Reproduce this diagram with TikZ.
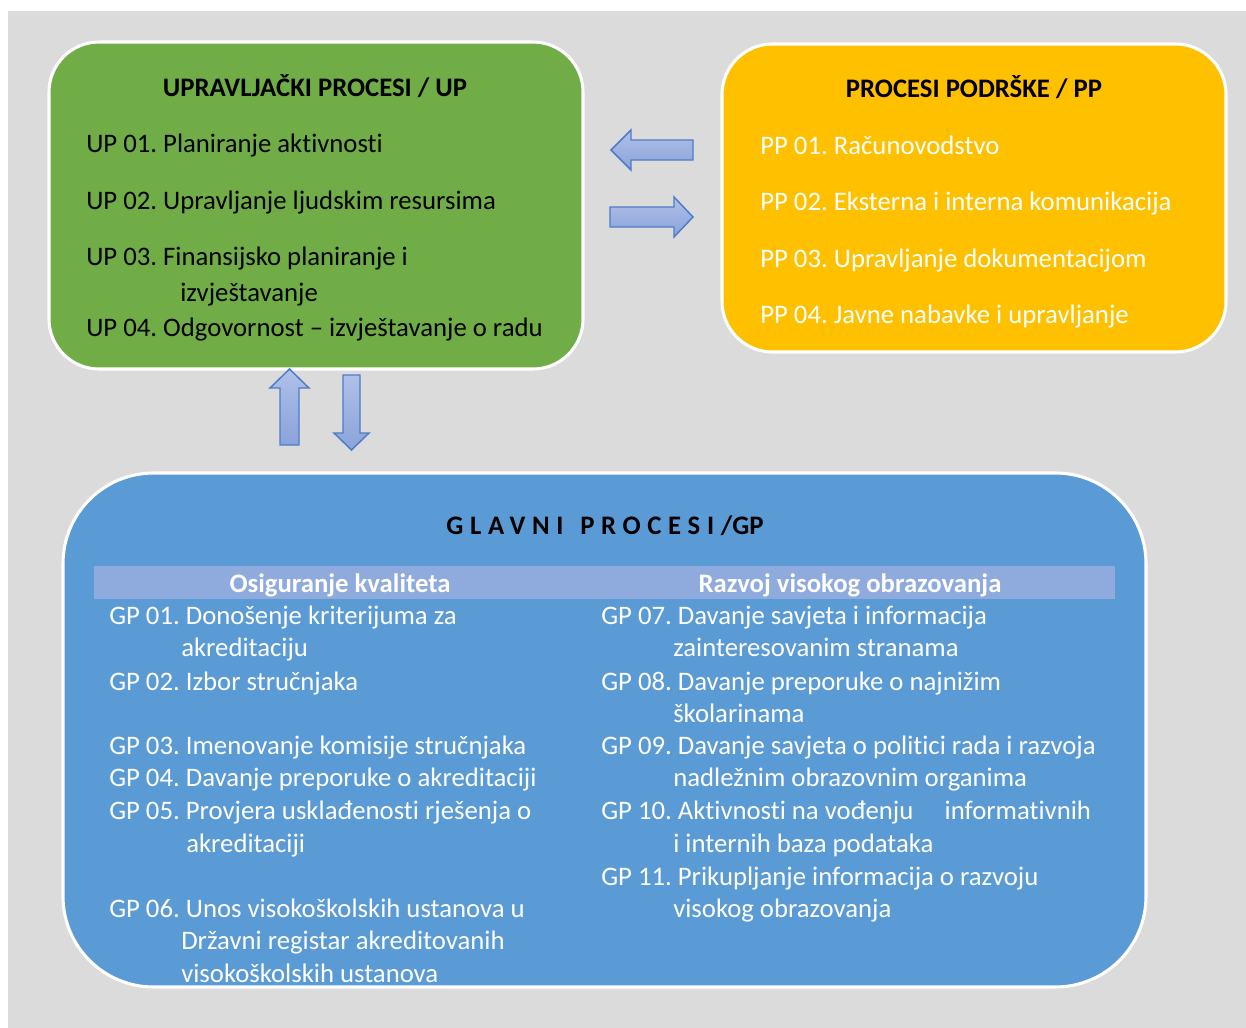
\documentclass[tikz,border=0pt]{standalone}
\usepackage{fontspec}
\setmainfont{Carlito}[Ligatures=NoCommon]
\newfontfamily\spacedfont[LetterSpace=25,Ligatures=NoCommon]{Carlito}
\frenchspacing
\definecolor{bggray}{HTML}{DBDBDB}
\definecolor{upgreen}{HTML}{70AD47}
\definecolor{ppyellow}{HTML}{FFC000}
\definecolor{gpblue}{HTML}{5B9BD5}
\definecolor{bandblue}{HTML}{8FAADC}
\definecolor{arrowtop}{HTML}{B0C0E8}
\definecolor{arrowbot}{HTML}{8AA3DA}
\definecolor{arrowline}{HTML}{4D7CC8}

\begin{document}
\begin{tikzpicture}[x=0.75pt,y=-0.75pt,
  box/.style={draw=white,line width=2.3pt},
  item/.style={anchor=west,inner sep=0pt,text height=1.5ex,text depth=.25ex,
    yshift=-4.3pt,font=\fontsize{20.05}{24}\selectfont},
  head/.style={item,anchor=center,font=\fontsize{20.05}{24}\selectfont\bfseries},
  barrow/.style={draw=arrowline,line width=1.1pt,top color=arrowtop,bottom color=arrowbot}]
  \useasboundingbox (0,0) rectangle (1246,1028);
  \fill[bggray] (8,11) rectangle (1246,1028);

  % upravljacki procesi
  \draw[box,fill=upgreen,rounded corners=37.5pt] (49,42) rectangle (583,369);
  \node[head] (uptitle) at (315,87) {UPRAVLJAČKI PROCESI / UP};
  \foreach \x/\y/\t in {86/143/UP 01. Planiranje aktivnosti,
      86/200/UP 02. Upravljanje ljudskim resursima,
      86/256/UP 03. Finansijsko planiranje i,
      180/292/izvještavanje,
      86/327/UP 04. Odgovornost – izvještavanje o radu}
    {\node[item] (up\y) at (\x,\y) {\t};}

  % procesi podrske
  \draw[box,fill=ppyellow,rounded corners=38pt] (722,44) rectangle (1226,352);
  \node[head] (pptitle) at (974,88) {PROCESI PODRŠKE / PP};
  \foreach \y/\t in {145/PP 01. Računovodstvo,
      201/PP 02. Eksterna i interna komunikacija,
      258/PP 03. Upravljanje dokumentacijom,
      314/PP 04. Javne nabavke i upravljanje}
    {\node[item,text=white] (pp\y) at (760,\y) {\t};}

  % block arrows between the boxes
  \draw[barrow] (611,150) -- (631,130) -- (631,140) -- (693,140) -- (693,160)
    -- (631,160) -- (631,170) -- cycle;
  \draw[barrow] (693,217) -- (674,197) -- (674,207) -- (610,207) -- (610,227)
    -- (674,227) -- (674,237) -- cycle;
  \draw[barrow] (289.5,369) -- (309,388) -- (299,388) -- (299,445) -- (280,445)
    -- (280,388) -- (270,388) -- cycle;
  \draw[barrow] (351.5,450) -- (369,433) -- (360,433) -- (360,375) -- (343,375)
    -- (343,433) -- (334,433) -- cycle;

  % glavni procesi
  \draw[box,fill=gpblue,rounded corners=68pt] (63,473) rectangle (1146,987);
  \node[head] (gptitle) at (605,525) {{\spacedfont\bfseries GLAVNI\hspace{3pt} PROCESI/}GP};
  \fill[bandblue] (94,566) rectangle (1115,599);
  \node[head,text=white] (band1) at (340,583) {Osiguranje kvaliteta};
  \node[head,text=white] (band2) at (850,583) {Razvoj visokog obrazovanja};
  \foreach \x/\y/\t in {109/615/GP 01. Donošenje kriterijuma za,
      181/647/akreditaciju,
      109/681/GP 02. Izbor stručnjaka,
      109/745/GP 03. Imenovanje komisije stručnjaka,
      109/777/GP 04. Davanje preporuke o akreditaciji,
      109/810/GP 05. Provjera usklađenosti rješenja o,
      186/843/akreditaciji,
      109/908/GP 06. Unos visokoškolskih ustanova u,
      181/940/Državni registar akreditovanih,
      181/973/visokoškolskih ustanova}
    {\node[item,text=white] (gl\y) at (\x,\y) {\t};}
  \foreach \x/\y/\t in {601/615/GP 07. Davanje savjeta i informacija,
      673/647/zainteresovanim stranama,
      601/681/GP 08. Davanje preporuke o najnižim,
      673/713/školarinama,
      601/745/GP 09. Davanje savjeta o politici rada i razvoja,
      673/777/nadležnim obrazovnim organima,
      601/810/GP 10. Aktivnosti na vođenju\hspace{19pt} informativnih,
      673/843/i internih baza podataka,
      601/876/GP 11. Prikupljanje informacija o razvoju,
      673/908/visokog obrazovanja}
    {\node[item,text=white] (gr\y) at (\x,\y) {\t};}
\end{tikzpicture}
\end{document}
